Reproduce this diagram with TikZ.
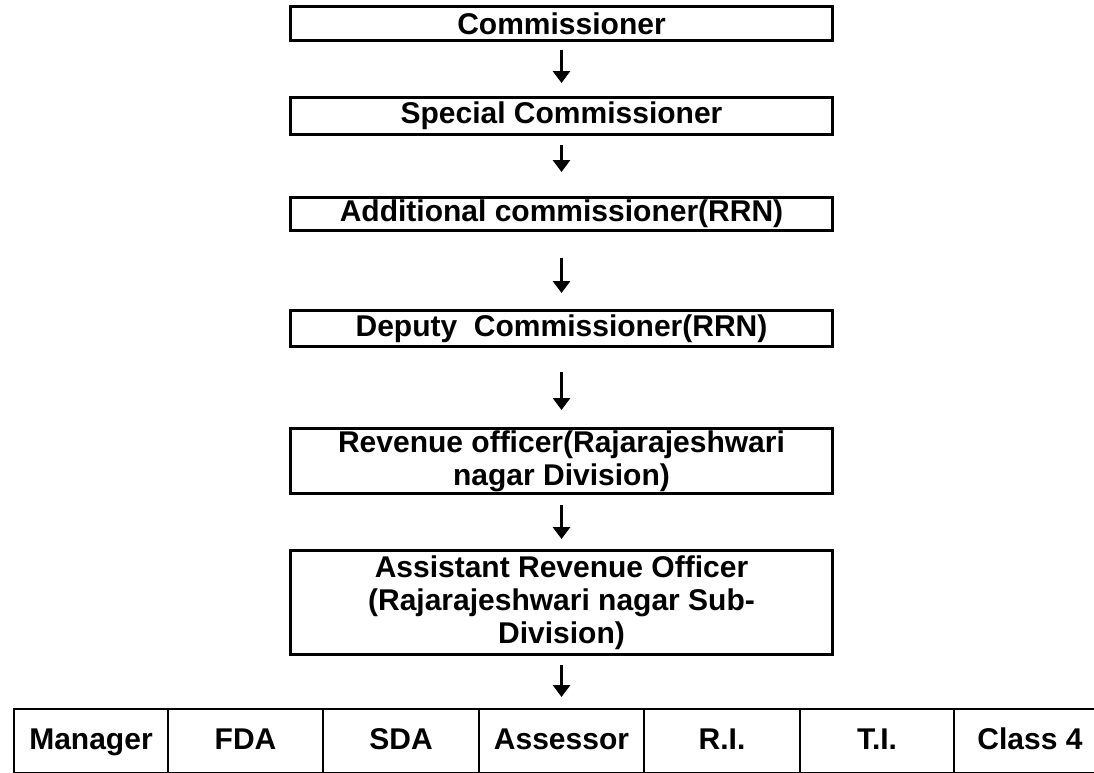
\documentclass[tikz,border=0pt]{standalone}
\usepackage{fontspec}
\setmainfont{Liberation Sans}
\usetikzlibrary{arrows.meta}

\begin{document}
\begin{tikzpicture}[x=1pt, y=-1pt,
    post/.style={draw, line width=3pt, inner sep=0pt, minimum width=542pt, align=center,
        font=\fontsize{30}{33}\selectfont\bfseries},
    cell/.style={draw, line width=2pt, inner sep=0pt, minimum height=64pt,
        text height=22pt, text depth=6pt,
        font=\fontsize{30}{33}\selectfont\bfseries},
    down/.style={line width=3.5pt, -{Triangle[width=17pt,length=12pt]}}]
    \useasboundingbox (0,0) rectangle (1094,772);
    \clip (0,0) rectangle (1094,772);

    % chain of officers
    \node[post, minimum height=34pt] (com) at (561.5,23.5) {Commissioner};
    \node[post, minimum height=37pt] (spc) at (561.5,116) {Special Commissioner};
    \node[post, minimum height=33pt] (adc) at (561.5,214) {Additional commissioner(RRN)};
    \node[post, minimum height=36pt] (dpc) at (561.5,328.5) {Deputy~ Commissioner(RRN)};
    \node[post, minimum height=65pt] (rvo) at (561.5,461) {Revenue officer(Rajarajeshwari\\nagar Division)};
    \node[post, minimum height=104pt] (aro) at (561.5,602.5) {Assistant Revenue Officer\\(Rajarajeshwari nagar Sub-\\Division)};

    % staff row
    \foreach \n/\lbl/\xa/\xb in {1/Manager/14/168, 2/FDA/168/323, 3/SDA/323/479, 4/Assessor/479/644,
                                5/R.I./644/800, 6/T.I./800/954, 7/Class 4/954/1106} {
        \pgfmathsetmacro{\midx}{(\xa+\xb)/2}
        \pgfmathsetmacro{\cellwd}{\xb-\xa}
        \node[cell, minimum width=\cellwd pt] (s\n) at (\midx,741) {\lbl};
    }

    % arrows
    \draw[down, shorten <=8pt, shorten >=13pt] (com) -- (spc);
    \draw[down, shorten <=9pt, shorten >=24pt] (spc) -- (adc);
    \draw[down, shorten <=26pt, shorten >=16pt] (adc) -- (dpc);
    \draw[down, shorten <=24pt, shorten >=17pt] (dpc) -- (rvo);
    \draw[down, shorten <=10pt, shorten >=10pt] (rvo) -- (aro);
    \coordinate (top) at (aro |- s4.north);
    \draw[down, shorten <=9pt, shorten >=11pt] (aro) -- (top);

\end{tikzpicture}
\end{document}
